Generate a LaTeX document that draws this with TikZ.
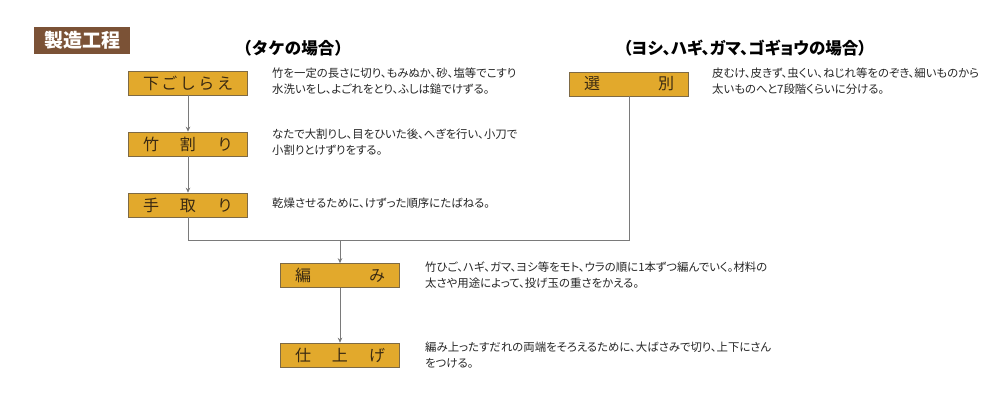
\documentclass[tikz,border=0pt]{standalone}
\usepackage{fontspec}
\usetikzlibrary{arrows.meta}
\newfontfamily\jp[RawFeature=+palt]{Noto Sans CJK JP}
\newfontfamily\jpfull{Noto Sans CJK JP}
\definecolor{gold}{HTML}{E2A92C}
\definecolor{goldedge}{HTML}{7E6A45}
\definecolor{titlebrown}{HTML}{7B5236}
\definecolor{linegray}{HTML}{7A7A7A}
\definecolor{txt}{HTML}{262626}
\definecolor{lbl}{HTML}{3A2A12}
\tikzset{
  stepbox/.style={draw=goldedge, line width=0.6pt, fill=gold, minimum width=119pt, minimum height=24pt, inner sep=0pt, text=lbl, font=\jpfull\fontsize{16}{16}\selectfont},
  desc/.style={anchor=north west, inner sep=0pt, align=left, text=txt, font=\jp\fontsize{11.4}{16}\selectfont},
  headfull/.style={text=black, font=\jpfull\bfseries\fontsize{16.5}{18}\selectfont},
  headprop/.style={text=black, font=\jp\bfseries\fontsize{16.5}{18}\selectfont},
  conn/.style={draw=linegray, line width=0.8pt},
  arr/.style={conn, -{Stealth[length=5pt,width=4.5pt]}}
}
\newcommand{\spreadlbl}[1]{\hbox to 90pt{#1}}
\begin{document}
\begin{tikzpicture}[x=1pt,y=-1pt]
\useasboundingbox[fill=white] (0,0) rectangle (1000,415);
% title
\node[fill=titlebrown, minimum width=96pt, minimum height=27pt, inner sep=0pt, text=white, font=\jpfull\bfseries\fontsize{19}{20}\selectfont] (title) at (82,40) {製造工程};
% headings
\node[headfull] (h1) at (293,48) {（タケの場合）};
\node[headprop] (h2) at (745,48) {（ヨシ、ハギ、ガマ、ゴギョウの場合）};
% boxes
\node[stepbox] (shita) at (188,83) {\spreadlbl{下\hfill ご\hfill し\hfill ら\hfill え}};
\node[stepbox] (take)  at (188,144) {\spreadlbl{竹\hfill 割\hfill り}};
\node[stepbox] (tedo)  at (188,205) {\spreadlbl{手\hfill 取\hfill り}};
\node[stepbox] (sen)   at (629,84) {\spreadlbl{選\hfill 別}};
\node[stepbox] (ami)   at (340,275.5) {\spreadlbl{編\hfill み}};
\node[stepbox] (shiage) at (340,355) {\spreadlbl{仕\hfill 上\hfill げ}};
% descriptions
\node[desc] (d1) at (272,68) {竹を一定の長さに切り、もみぬか、砂、塩等でこすり\\水洗いをし、よごれをとり、ふしは鎚でけずる。};
\node[desc] (d2) at (272,129) {なたで大割りし、目をひいた後、へぎを行い、小刀で\\小割りとけずりをする。};
\node[desc] (d3) at (272,198) {乾燥させるために、けずった順序にたばねる。};
\node[desc] (d4) at (712,68) {皮むけ、皮きず、虫くい、ねじれ等をのぞき、細いものから\\太いものへと7段階くらいに分ける。};
\node[desc] (d5) at (425,262) {竹ひご、ハギ、ガマ、ヨシ等をモト、ウラの順に1本ずつ編んでいく。材料の\\太さや用途によって、投げ玉の重さをかえる。};
\node[desc] (d6) at (425,342) {編み上ったすだれの両端をそろえるために、大ばさみで切り、上下にさん\\をつける。};
% connectors
\coordinate (j) at (340,240);
\draw[arr] (shita.south) -- (take.north);
\draw[arr] (take.south) -- (tedo.north);
\draw[conn] (tedo.south) |- (j);
\draw[conn] (sen.south) |- (j);
\draw[arr] (j) -- (ami.north);
\draw[arr] (ami.south) -- (shiage.north);
\end{tikzpicture}
\end{document}
